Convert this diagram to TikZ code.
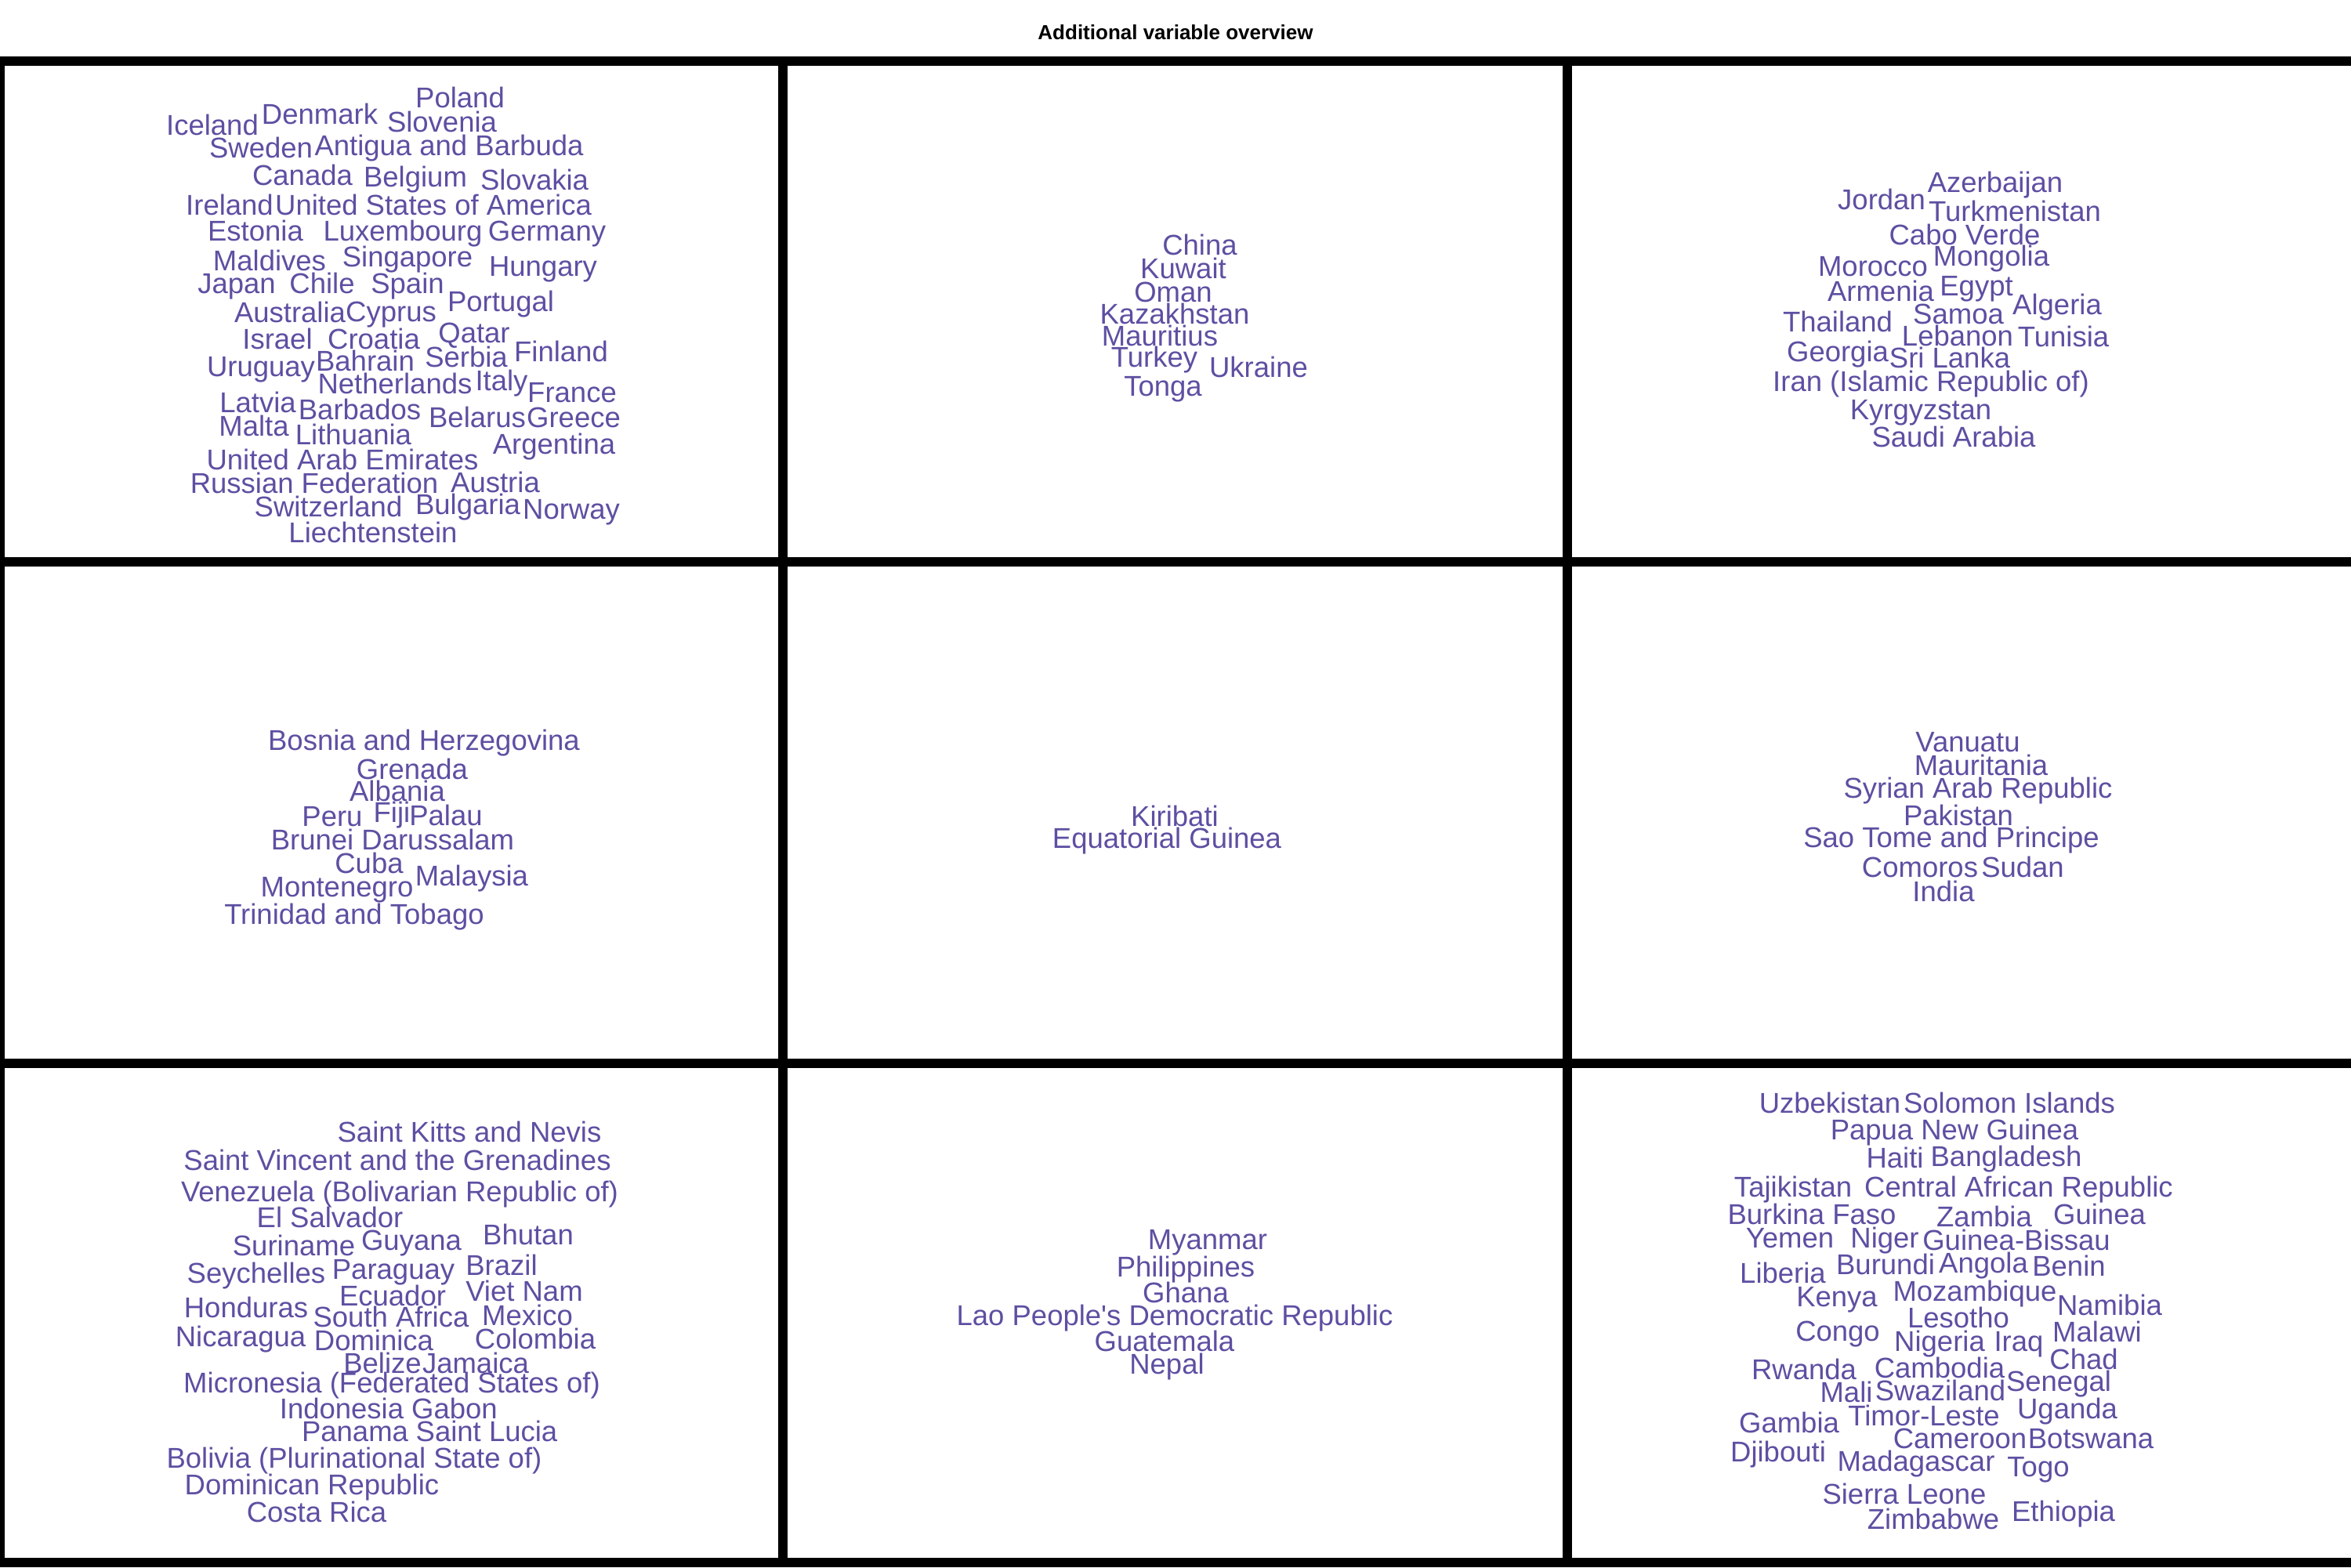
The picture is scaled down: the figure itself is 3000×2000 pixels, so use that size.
\documentclass[tikz,border=0pt]{standalone}
\usepackage{fontspec}
\setmainfont{Liberation Sans}
\definecolor{wcol}{HTML}{5E4FA2}
\tikzset{
  cty/.style={font=\fontsize{36.5}{40}\selectfont, text=wcol, inner sep=0pt, text height=26.1pt, text depth=0pt, anchor=center},
  gridline/.style={line width=12pt, line cap=butt, draw=black},
  ttl/.style={font=\fontsize{26}{30}\selectfont\bfseries, text=black, inner sep=0pt, text height=18.6pt, text depth=0pt, anchor=center}
}
\begin{document}
\begin{tikzpicture}[x=1pt,y=-1pt]
\useasboundingbox (0,0) rectangle (3000,2000);
\fill[white] (0,0) rectangle (3000,2000);
% title
\node[ttl] (title) at (1500,41) {Additional variable overview};
% grid
\coordinate (h1l) at (0,78);    \coordinate (h1r) at (3000,78);
\coordinate (h2l) at (0,717);   \coordinate (h2r) at (3000,717);
\coordinate (h3l) at (0,1357);  \coordinate (h3r) at (3000,1357);
\coordinate (h4l) at (0,1994);  \coordinate (h4r) at (3000,1994);
\coordinate (v1t) at (0,72);    \coordinate (v1b) at (0,2000);
\coordinate (v2t) at (999,72);  \coordinate (v2b) at (999,2000);
\coordinate (v3t) at (2000,72); \coordinate (v3b) at (2000,2000);
\draw[gridline] (h1l) -- (h1r);
\draw[gridline] (h2l) -- (h2r);
\draw[gridline] (h3l) -- (h3r);
\draw[gridline] (h4l) -- (h4r);
\draw[gridline] (v1t) -- (v1b);
\draw[gridline] (v2t) -- (v2b);
\draw[gridline] (v3t) -- (v3b);
% panel 1
\node[cty] (poland) at (587,124) {Poland};
\node[cty] (denmark) at (408,145) {Denmark};
\node[cty] (slovenia) at (564,155) {Slovenia};
\node[cty] (iceland) at (271,159) {Iceland};
\node[cty] (sweden) at (333,188) {Sweden};
\node[cty] (antigua) at (573,185) {Antigua and Barbuda};
\node[cty] (canada) at (386,223) {Canada};
\node[cty] (belgium) at (530,225) {Belgium};
\node[cty] (slovakia) at (682,229) {Slovakia};
\node[cty] (ireland) at (293,261) {Ireland};
\node[cty] (usa) at (553,261) {United States of America};
\node[cty] (estonia) at (326,294) {Estonia};
\node[cty] (luxembourg) at (514,294) {Luxembourg};
\node[cty] (germany) at (698,294) {Germany};
\node[cty] (maldives) at (344,332) {Maldives};
\node[cty] (singapore) at (520,327) {Singapore};
\node[cty] (hungary) at (693,339) {Hungary};
\node[cty] (japan) at (302,361) {Japan};
\node[cty] (chile) at (411,361) {Chile};
\node[cty] (spain) at (520,361) {Spain};
\node[cty] (portugal) at (639,384) {Portugal};
\node[cty] (australia) at (370,398) {Australia};
\node[cty] (cyprus) at (499,397) {Cyprus};
\node[cty] (qatar) at (605,424) {Qatar};
\node[cty] (israel) at (354,432) {Israel};
\node[cty] (croatia) at (477,432) {Croatia};
\node[cty] (serbia) at (595,455) {Serbia};
\node[cty] (finland) at (716,448) {Finland};
\node[cty] (uruguay) at (333,467) {Uruguay};
\node[cty] (bahrain) at (466,460) {Bahrain};
\node[cty] (netherlands) at (504,489) {Netherlands};
\node[cty] (italy) at (640,485) {Italy};
\node[cty] (france) at (730,500) {France};
\node[cty] (latvia) at (329,513) {Latvia};
\node[cty] (barbados) at (459,522) {Barbados};
\node[cty] (belarus) at (609,532) {Belarus};
\node[cty] (greece) at (732,532) {Greece};
\node[cty] (malta) at (324,543) {Malta};
\node[cty] (lithuania) at (451,554) {Lithuania};
\node[cty] (argentina) at (707,566) {Argentina};
\node[cty] (uae) at (437,586) {United Arab Emirates};
\node[cty] (russia) at (401,616) {Russian Federation};
\node[cty] (austria) at (632,615) {Austria};
\node[cty] (switzerland) at (419,646) {Switzerland};
\node[cty] (bulgaria) at (597,643) {Bulgaria};
\node[cty] (norway) at (729,649) {Norway};
\node[cty] (liechtenstein) at (476,679) {Liechtenstein};
% panel 2
\node[cty] (china) at (1531,312) {China};
\node[cty] (kuwait) at (1510,342) {Kuwait};
\node[cty] (oman) at (1497,372) {Oman};
\node[cty] (kazakhstan) at (1499,400) {Kazakhstan};
\node[cty] (mauritius) at (1480,428) {Mauritius};
\node[cty] (turkey) at (1473,455) {Turkey};
\node[cty] (ukraine) at (1606,468) {Ukraine};
\node[cty] (tonga) at (1484,492) {Tonga};
% panel 3
\node[cty] (azerbaijan) at (2546,232) {Azerbaijan};
\node[cty] (jordan) at (2401,254) {Jordan};
\node[cty] (turkmenistan) at (2571,269) {Turkmenistan};
\node[cty] (caboverde) at (2507,299) {Cabo Verde};
\node[cty] (mongolia) at (2541,326) {Mongolia};
\node[cty] (morocco) at (2390,339) {Morocco};
\node[cty] (armenia) at (2400,371) {Armenia};
\node[cty] (egypt) at (2522,364) {Egypt};
\node[cty] (algeria) at (2625,388) {Algeria};
\node[cty] (thailand) at (2345,410) {Thailand};
\node[cty] (samoa) at (2499,400) {Samoa};
\node[cty] (lebanon) at (2498,428) {Lebanon};
\node[cty] (tunisia) at (2633,429) {Tunisia};
\node[cty] (georgia) at (2345,448) {Georgia};
\node[cty] (srilanka) at (2488,456) {Sri Lanka};
\node[cty] (iran) at (2464,486) {Iran (Islamic Republic of)};
\node[cty] (kyrgyzstan) at (2451,522) {Kyrgyzstan};
\node[cty] (saudi) at (2493,557) {Saudi Arabia};
% panel 4
\node[cty] (bosnia) at (541,944) {Bosnia and Herzegovina};
\node[cty] (grenada) at (526,981) {Grenada};
\node[cty] (albania) at (507,1009) {Albania};
\node[cty] (peru) at (424,1041) {Peru};
\node[cty] (fiji) at (500,1036) {Fiji};
\node[cty] (palau) at (569,1040) {Palau};
\node[cty] (brunei) at (501,1071) {Brunei Darussalam};
\node[cty] (cuba) at (471,1101) {Cuba};
\node[cty] (malaysia) at (602,1117) {Malaysia};
\node[cty] (montenegro) at (430,1131) {Montenegro};
\node[cty] (trinidad) at (452,1166) {Trinidad and Tobago};
% panel 5
\node[cty] (kiribati) at (1499,1041) {Kiribati};
\node[cty] (eqguinea) at (1489,1069) {Equatorial Guinea};
% panel 6
\node[cty] (vanuatu) at (2511,946) {Vanuatu};
\node[cty] (mauritania) at (2528,976) {Mauritania};
\node[cty] (syria) at (2524,1005) {Syrian Arab Republic};
\node[cty] (pakistan) at (2499,1040) {Pakistan};
\node[cty] (saotome) at (2490,1068) {Sao Tome and Principe};
\node[cty] (comoros) at (2450,1106) {Comoros};
\node[cty] (sudan) at (2581,1106) {Sudan};
\node[cty] (india) at (2480,1137) {India};
% panel 7
\node[cty] (stkitts) at (599,1444) {Saint Kitts and Nevis};
\node[cty] (stvincent) at (507,1480) {Saint Vincent and the Grenadines};
\node[cty] (venezuela) at (510,1520) {Venezuela (Bolivarian Republic of)};
\node[cty] (elsalvador) at (421,1553) {El Salvador};
\node[cty] (suriname) at (375,1589) {Suriname};
\node[cty] (guyana) at (525,1582) {Guyana};
\node[cty] (bhutan) at (674,1575) {Bhutan};
\node[cty] (seychelles) at (327,1624) {Seychelles};
\node[cty] (paraguay) at (502,1619) {Paraguay};
\node[cty] (brazil) at (640,1614) {Brazil};
\node[cty] (ecuador) at (501,1653) {Ecuador};
\node[cty] (vietnam) at (669,1647) {Viet Nam};
\node[cty] (honduras) at (314,1668) {Honduras};
\node[cty] (southafrica) at (499,1680) {South Africa};
\node[cty] (mexico) at (673,1678) {Mexico};
\node[cty] (nicaragua) at (307,1705) {Nicaragua};
\node[cty] (dominica) at (477,1710) {Dominica};
\node[cty] (colombia) at (683,1708) {Colombia};
\node[cty] (belize) at (488,1739) {Belize};
\node[cty] (jamaica) at (607,1739) {Jamaica};
\node[cty] (micronesia) at (500,1764) {Micronesia (Federated States of)};
\node[cty] (indonesia) at (436,1797) {Indonesia};
\node[cty] (gabon) at (580,1797) {Gabon};
\node[cty] (panama) at (453,1826) {Panama};
\node[cty] (stlucia) at (621,1826) {Saint Lucia};
\node[cty] (bolivia) at (452,1860) {Bolivia (Plurinational State of)};
\node[cty] (dominicanrep) at (398,1894) {Dominican Republic};
\node[cty] (costarica) at (404,1929) {Costa Rica};
% panel 8
\node[cty] (myanmar) at (1541,1581) {Myanmar};
\node[cty] (philippines) at (1513,1616) {Philippines};
\node[cty] (ghana) at (1513,1649) {Ghana};
\node[cty] (lao) at (1499,1678) {Lao People\textquotesingle s Democratic Republic};
\node[cty] (guatemala) at (1486,1711) {Guatemala};
\node[cty] (nepal) at (1489,1740) {Nepal};
% panel 9
\node[cty] (uzbekistan) at (2335,1407) {Uzbekistan};
\node[cty] (solomon) at (2564,1407) {Solomon Islands};
\node[cty] (papua) at (2494,1441) {Papua New Guinea};
\node[cty] (haiti) at (2418,1477) {Haiti};
\node[cty] (bangladesh) at (2560,1475) {Bangladesh};
\node[cty] (tajikistan) at (2288,1514) {Tajikistan};
\node[cty] (car) at (2576,1514) {Central African Republic};
\node[cty] (burkina) at (2312,1549) {Burkina Faso};
\node[cty] (zambia) at (2532,1552) {Zambia};
\node[cty] (guinea) at (2679,1549) {Guinea};
\node[cty] (yemen) at (2284,1579) {Yemen};
\node[cty] (niger) at (2405,1579) {Niger};
\node[cty] (guineabissau) at (2573,1582) {Guinea-Bissau};
\node[cty] (liberia) at (2275,1624) {Liberia};
\node[cty] (burundi) at (2406,1613) {Burundi};
\node[cty] (angola) at (2531,1611) {Angola};
\node[cty] (benin) at (2640,1615) {Benin};
\node[cty] (kenya) at (2344,1654) {Kenya};
\node[cty] (mozambique) at (2520,1647) {Mozambique};
\node[cty] (namibia) at (2692,1665) {Namibia};
\node[cty] (lesotho) at (2499,1681) {Lesotho};
\node[cty] (congo) at (2345,1698) {Congo};
\node[cty] (nigeria) at (2475,1711) {Nigeria};
\node[cty] (iraq) at (2576,1711) {Iraq};
\node[cty] (malawi) at (2676,1699) {Malawi};
\node[cty] (chad) at (2659,1734) {Chad};
\node[cty] (rwanda) at (2302,1747) {Rwanda};
\node[cty] (cambodia) at (2475,1745) {Cambodia};
\node[cty] (senegal) at (2627,1762) {Senegal};
\node[cty] (mali) at (2356,1776) {Mali};
\node[cty] (swaziland) at (2476,1774) {Swaziland};
\node[cty] (uganda) at (2638,1797) {Uganda};
\node[cty] (gambia) at (2283,1815) {Gambia};
\node[cty] (timor) at (2455,1806) {Timor-Leste};
\node[cty] (cameroon) at (2501,1835) {Cameroon};
\node[cty] (botswana) at (2668,1835) {Botswana};
\node[cty] (djibouti) at (2269,1852) {Djibouti};
\node[cty] (madagascar) at (2445,1864) {Madagascar};
\node[cty] (togo) at (2601,1871) {Togo};
\node[cty] (sierraleone) at (2430,1906) {Sierra Leone};
\node[cty] (zimbabwe) at (2467,1938) {Zimbabwe};
\node[cty] (ethiopia) at (2633,1928) {Ethiopia};
\end{tikzpicture}
\end{document}
